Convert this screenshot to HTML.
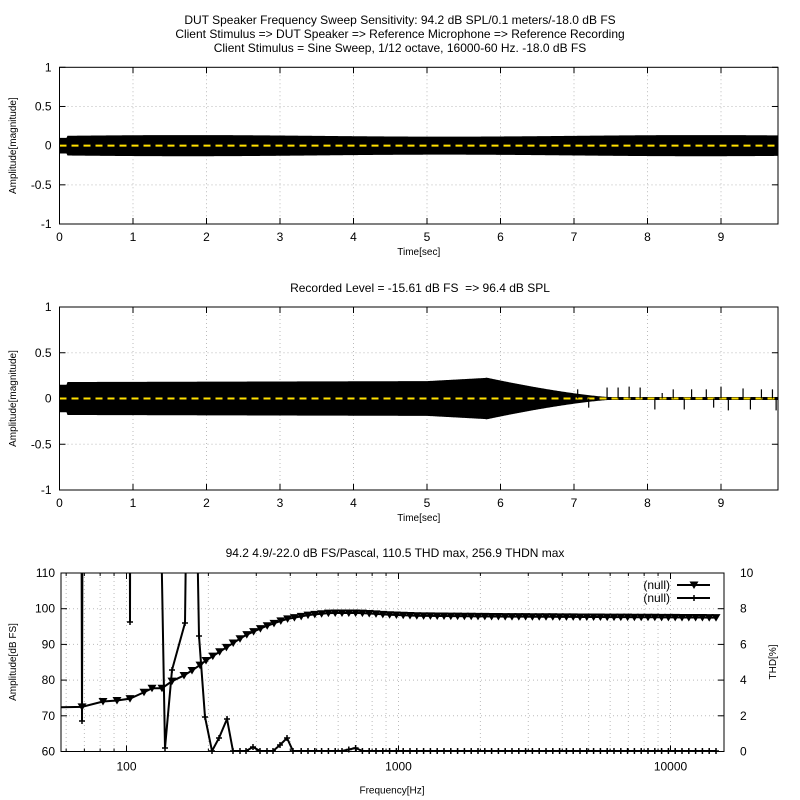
<!DOCTYPE html>
<html><head><meta charset="utf-8"><style>
html,body{margin:0;padding:0;background:#fff;}
svg{display:block;font-family:"Liberation Sans",sans-serif;}
</style></head><body>
<svg id="s" width="800" height="800" xmlns="http://www.w3.org/2000/svg">
<rect width="800" height="800" fill="#fff"/>
<g font-size="12" text-anchor="middle" fill="#000">
<text x="400" y="24">DUT Speaker Frequency Sweep Sensitivity: 94.2 dB SPL/0.1 meters/-18.0 dB FS</text>
<text x="400" y="38">Client Stimulus =&gt; DUT Speaker =&gt; Reference Microphone =&gt; Reference Recording</text>
<text x="400" y="52">Client Stimulus = Sine Sweep, 1/12 octave, 16000-60 Hz. -18.0 dB FS</text>
<text x="420" y="292" xml:space="preserve">Recorded Level = -15.61 dB FS  =&gt; 96.4 dB SPL</text>
<text x="395" y="557">94.2 4.9/-22.0 dB FS/Pascal, 110.5 THD max, 256.9 THDN max</text>
</g>
<g id="g"></g>
</svg>
<script>
(function(){
var g=document.getElementById('g'),h='';
function L(x1,y1,x2,y2,st){h+='<line x1="'+x1+'" y1="'+y1+'" x2="'+x2+'" y2="'+y2+'" '+(st||'stroke="#000"')+'/>';}
function T(x,y,t,a,fs){h+='<text x="'+x+'" y="'+y+'" font-size="'+(fs||12)+'" text-anchor="'+(a||'middle')+'">'+t+'</text>';}
var dot='stroke="#bbb" stroke-dasharray="1,3"';
function timePlot(pt,pb,env){
  var l=59.5,r=778,ps=73.5,mid=(pt+pb)/2,hh=(pb-pt)/2;
  for(var i=1;i<=9;i++){var x=l+i*ps;L(x,pt,x,pb,dot);}
  [0.5,-0.5].forEach(function(v){var y=mid-v*hh;L(l,y,r,y,dot);});
  [1,0.5,0,-0.5,-1].forEach(function(v){var y=mid-v*hh;L(l,y,l+6,y);L(r-6,y,r,y);T(l-8,y+4,v,'end');});
  for(var i=0;i<=9;i++){var x=l+i*ps;L(x,pb,x,pb-6);L(x,pt,x,pt+6);T(x,pb+17,i);}
  T((l+r)/2,pb+31,'Time[sec]','middle',10);
  h+='<text transform="translate(16,'+mid+') rotate(-90)" font-size="10" text-anchor="middle">Amplitude[magnitude]</text>';
  var up='',dn='';
  for(var x=l;x<=r;x+=1){var t=(x-l)/ps;var a=env(t);up+=x+','+(mid-a*hh)+' ';dn=x+','+(mid+a*hh)+' '+dn;}
  h+='<polygon points="'+up+dn+'" fill="#000"/>';
  L(l,mid,r,mid,'stroke="#000" stroke-width="3"');
  L(l,mid,r,mid,'stroke="#ffe000" stroke-width="2" stroke-dasharray="7,5"');
  h+='<rect x="'+l+'" y="'+pt+'" width="'+(r-l)+'" height="'+(pb-pt)+'" fill="none" stroke="#000"/>';
}
timePlot(67.3,224,function(t){if(t<0.1)return 0.1;return 0.125+0.01*Math.sin(t*0.9);});
timePlot(307,490,function(t){var a;if(t<0.1)a=0.15;else if(t<5)a=0.18+0.01*(t/5);else if(t<5.8)a=0.19+0.035*(t-5)/0.8;else if(t<7.6)a=0.22*Math.pow((7.6-t)/1.8,1.4)+0.01;else a=0.01;return a;});
var mid2=398.5,hh2=91.5,sp=[[7.05,0.1],[7.2,-0.1],[7.45,0.12],[7.6,0.12],[7.75,0.13],[7.9,0.12],[8.1,-0.12],[8.2,0.06],[8.35,0.1],[8.5,-0.12],[8.6,0.1],[8.8,0.1],[8.9,-0.1],[9.0,0.13],[9.1,-0.13],[9.3,0.11],[9.4,-0.12],[9.55,0.1],[9.7,0.1],[9.75,-0.13]];
sp.forEach(function(s){var x=59.5+s[0]*73.5;L(x,mid2,x,mid2-s[1]*hh2,'stroke="#000" stroke-width="1.2"');});
var l=61,r=724,pT=573,pB=751.5;
function fx(f){return 126.5+272*Math.log10(f/100);}
function dy(d){return pB-(d-60)*(pB-pT)/50;}
var grid=[];for(var d=10;d<=10000;d*=10)for(var k=1;k<10;k++){var f=d*k;var x=fx(f);if(x>l&&x<r)grid.push([x,k==1]);}
grid.forEach(function(gx){L(gx[0],pT,gx[0],pB,dot);L(gx[0],pB,gx[0],pB-(gx[1]?6:3));L(gx[0],pT,gx[0],pT+(gx[1]?6:3));});
[100,1000,10000].forEach(function(f){T(fx(f),pB+19,f);});
[110,100,90,80,70,60].forEach(function(v){var y=dy(v);if(v<110&&v>60)L(l,y,r,y,dot);L(l,y,l+6,y);L(r-6,y,r,y);T(l-6,y+4,v,'end');});
[10,8,6,4,2,0].forEach(function(v,i){var y=pT+i*(pB-pT)/5;T(r+16,y+4,v,'start');});
T(392,pB+42,'Frequency[Hz]','middle',10);
h+='<text transform="translate(16,662) rotate(-90)" font-size="10" text-anchor="middle">Amplitude[dB FS]</text>';
h+='<text transform="translate(776,662) rotate(-90)" font-size="10" text-anchor="middle">THD[%]</text>';
var an=[[61,72.4],[82,72.5],[103,74],[117,74.3],[130,74.8],[144,76.6],[152,77.7],[162,77.7],[172,79.7],[184,81.3],[192,82.7],[200,84.2],[206,85.5],[220,88],[245,92.5],[265,95],[285,97],[310,98.3],[330,98.8],[360,98.8],[390,98.3],[420,98],[500,97.8],[720,97.5]];
function ad(x){for(var i=0;i<an.length-1;i++){if(x<=an[i+1][0]){var a=an[i],b=an[i+1];return a[1]+(b[1]-a[1])*(x-a[0])/(b[0]-a[0]);}}return 97.5;}
var xs=[82,103,117,130,144,152,162,172,184,192,200];for(var x=206;x<=721;x+=6.8)xs.push(x);
var p1='61,'+dy(72.4)+' ';xs.forEach(function(x){p1+=x+','+dy(ad(x))+' ';});
h+='<polyline points="'+p1+'" fill="none" stroke="#000" stroke-width="2"/>';
function tri(x,y){h+='<polygon points="'+(x-4.5)+','+(y-3.5)+' '+(x+4.5)+','+(y-3.5)+' '+x+','+(y+4)+'" fill="#000"/>';}
xs.forEach(function(x){tri(x,dy(ad(x)));});
var U=300;
var th=[[81,U],[82,721],[83,U],[129.5,U],[130,622],[130.5,U],[157,U],[165,748],[172,670],[185,623],[189,U],[193,U],[199,636],[205,717],[212,751],[219,738],[227,719],[233,751],[240,751],[246,751],[253,747],[260,751],[267,751],[273,751],[280,745],[287,738],[293,751]];
var tx=[];xs.forEach(function(x){if(x>295){var y=751;if(Math.abs(x-355)<4)y=748;if(Math.abs(x-348)<4)y=749.5;tx.push([x,y]);}});
var all=th.concat(tx),p2='';all.forEach(function(p){p2+=p[0]+','+p[1]+' ';});
h+='<clipPath id="c"><rect x="'+l+'" y="'+pT+'" width="'+(r-l)+'" height="'+(pB-pT)+'"/></clipPath>';
h+='<polyline clip-path="url(#c)" points="'+p2+'" fill="none" stroke="#000" stroke-width="2"/>';
function plus(x,y){L(x-3,y,x+3,y,'stroke="#000" stroke-width="1.5"');L(x,y-3,x,y+3,'stroke="#000" stroke-width="1.5"');}
all.forEach(function(p){if(p[1]>pT+1)plus(p[0],p[1]);});
T(670,589,'(null)','end');T(670,602,'(null)','end');
L(677,585,710,585,'stroke="#000" stroke-width="2"');tri(694,585);
L(677,598,710,598,'stroke="#000" stroke-width="2"');plus(694,598);
h+='<rect x="'+l+'" y="'+pT+'" width="'+(r-l)+'" height="'+(pB-pT)+'" fill="none" stroke="#000"/>';
g.innerHTML=h;
})();
</script>
</body></html>
